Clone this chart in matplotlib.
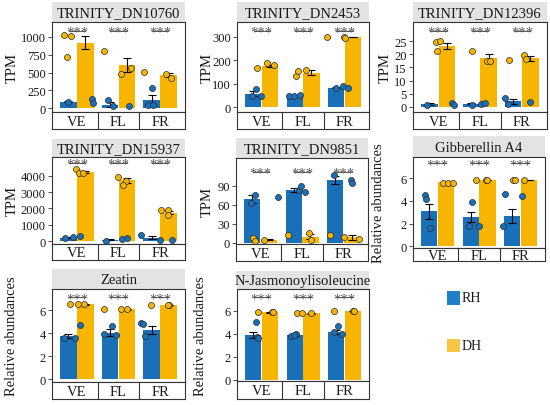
import numpy as np
import matplotlib.pyplot as plt
import matplotlib.transforms as mtransforms

plt.rcParams['font.family'] = ['Liberation Serif', 'DejaVu Serif']

groups = ["VE", "FL", "FR"]
series = ["RH", "DH"]
blue = "#1a6fb9"
yellow = "#f7b500"

# TRINITY_DN10760
dn10760_rh_mean = [90, 45, 113]
dn10760_rh_se = [12, 35, 75]
dn10760_dh_mean = [920, 605, 470]
dn10760_dh_se = [95, 100, 30]
dn10760_rh_pts = [[80, 127, 70], [113, 33, 24], [278, 42, 42]]
dn10760_dh_pts = [[1033, 1014, 717], [797, 481, 566], [514, 481, 420]]

# TRINITY_DN2453
dn2453_rh_mean = [57, 50, 83]
dn2453_rh_se = [10, 2, 2]
dn2453_dh_mean = [176, 147, 300]
dn2453_dh_se = [5, 10, 1]
dn2453_rh_pts = [[79, 47, 47], [47, 47, 50], [83, 89, 81]]
dn2453_dh_pts = [[169, 189, 179], [133, 153, 160], [300, 300, 297]]

# TRINITY_DN12396
dn12396_rh_mean = [1.2, 1.3, 2.2]
dn12396_rh_se = [0.3, 0.15, 1.0]
dn12396_dh_mean = [23.1, 18.5, 18.4]
dn12396_dh_se = [1.3, 1.4, 0.8]
dn12396_rh_pts = [[0.6, 1.6, 0.9], [0.9, 1.2, 1.5], [3.5, 1.2, 1.9]]
dn12396_dh_pts = [[24.6, 25.0, 21.3], [21.3, 17.25, 17.25], [17.75, 19.75, 18.1]]

# TRINITY_DN15937
dn15937_rh_mean = [200, 80, 200]
dn15937_rh_se = [40, 30, 100]
dn15937_dh_mean = [4230, 3720, 1740]
dn15937_dh_se = [90, 140, 100]
dn15937_rh_pts = [[180, 220, 300], [30, 110, 160], [400, 80, 80]]
dn15937_dh_pts = [[4440, 4180, 4200], [3900, 3680, 3440], [1880, 1880, 1580]]

# TRINITY_DN9851
dn9851_rh_mean = [69, 84, 99]
dn9851_rh_se = [6, 3, 6]
dn9851_dh_mean = [5, 9.5, 8.4]
dn9851_dh_se = [0.5, 4, 3.5]
dn9851_rh_pts = [[75, 63, 72], [84, 90, 80], [107, 99, 95]]
dn9851_dh_pts = [[7, 3, 5], [12, 15, 5], [13, 9.5, 6]]

# Gibberellin A4
ga4_rh_mean = [3.09, 2.6, 2.65]
ga4_rh_se = [0.65, 0.45, 0.6]
ga4_dh_mean = [5.62, 5.84, 5.84]
ga4_dh_se = [0.02, 0.02, 0.02]
ga4_rh_pts = [[4.47, 4.18, 1.64], [3.9, 1.82, 1.82], [4.56, 1.82, 4.41]]
ga4_dh_pts = [[5.57, 5.57, 5.57], [5.86, 5.86, 5.86], [5.86, 5.86, 5.86]]

# Zeatin
zeatin_rh_mean = [3.75, 4.04, 4.27]
zeatin_rh_se = [0.15, 0.3, 0.35]
zeatin_dh_mean = [6.49, 6.06, 6.43]
zeatin_dh_se = [0.02, 0.02, 0.02]
zeatin_rh_pts = [[3.6, 3.55, 4.7], [3.95, 4.6, 3.84], [4.9, 4.76, 3.75]]
zeatin_dh_pts = [[6.49, 6.49, 6.49], [6.06, 6.06, 6.06], [6.43, 6.43, 6.43]]

# N-Jasmonoylisoleucine
jaile_rh_mean = [3.89, 3.89, 4.18]
jaile_rh_se = [0.25, 0.05, 0.15]
jaile_dh_mean = [5.86, 5.77, 6.0]
jaile_dh_se = [0.02, 0.02, 0.02]
jaile_rh_pts = [[4.99, 3.69, 3.63], [3.84, 3.98, 3.89], [4.7, 3.98, 4.12]]
jaile_dh_pts = [[5.94, 5.9, 5.9], [5.8, 5.8, 5.8], [6.0, 6.0, 6.0]]

# horizontal jitter of the dots (layout only)
jit = {
    "dn10760": ([[-0.21, 0.36, 0.38], [-0.26, -0.13, 0.25], [-0.2, -0.3, -0.17]],
                [[-0.3, -0.15, -0.25], [-0.36, 0.07, 0.31], [-0.38, 0.14, 0.27]]),
    "dn2453": ([[-0.14, -0.23, -0.03], [-0.35, -0.22, -0.07], [-0.2, -0.02, 0.09]],
               [[-0.11, 0.13, 0.3], [-0.17, -0.11, 0.07], [-0.42, 0.0, 0.03]]),
    "dn12396": ([[-0.27, 0.32, 0.37], [-0.18, 0.03, 0.11], [-0.4, -0.33, 0.19]],
                [[-0.04, 0.04, -0.02], [-0.2, 0.16, 0.24], [-0.31, 0.06, 0.1]]),
    "dn15937": ([[-0.29, -0.1, 0.07], [-0.3, 0.08, 0.2], [-0.45, 0.0, 0.29]],
                [[-0.02, 0.04, 0.15], [-0.01, 0.17, 0.11], [0.02, 0.2, 0.2]]),
    "dn9851": ([[-0.14, -0.23, 0.43], [-0.08, -0.03, 0.07], [-0.22, 0.19, 0.21]],
               [[-0.19, -0.15, 0.09], [-0.33, 0.16, 0.21], [-0.31, 0.02, 0.37]]),
    "ga4": ([[-0.32, -0.28, -0.19], [-0.16, -0.25, 0.01], [-0.36, -0.41, 0.05]],
            [[0.12, 0.25, 0.38], [-0.08, 0.17, 0.19], [-0.18, -0.12, 0.08]]),
    "zeatin": ([[-0.31, -0.05, 0.08], [-0.36, -0.15, -0.07], [-0.45, -0.4, -0.37]],
               [[-0.16, 0.02, 0.17], [-0.36, 0.07, 0.2], [-0.22, 0.21, 0.19]]),
    "jaile": ([[-0.15, -0.12, -0.08], [-0.28, -0.18, -0.22], [-0.15, -0.05, -0.25]],
              [[-0.1, 0.26, 0.28], [-0.14, -0.02, 0.19], [-0.25, 0.21, 0.23]]),
}

panels = [
    dict(key="dn10760", title="TRINITY_DN10760", ylabel="TPM",
         rh=(dn10760_rh_mean, dn10760_rh_se, dn10760_rh_pts),
         dh=(dn10760_dh_mean, dn10760_dh_se, dn10760_dh_pts),
         box=(52, 185, 3, 23, 113, 130), lab_x=12,
         ylim=(-56, 1211), yticks=[0, 250, 500, 750, 1000], star=0.9),
    dict(key="dn2453", title="TRINITY_DN2453", ylabel="TPM",
         rh=(dn2453_rh_mean, dn2453_rh_se, dn2453_rh_pts),
         dh=(dn2453_dh_mean, dn2453_dh_se, dn2453_dh_pts),
         box=(237, 369, 3, 23, 113, 130), lab_x=207,
         ylim=(-21, 364), yticks=[0, 100, 200, 300], star=0.9),
    dict(key="dn12396", title="TRINITY_DN12396", ylabel="TPM",
         rh=(dn12396_rh_mean, dn12396_rh_se, dn12396_rh_pts),
         dh=(dn12396_dh_mean, dn12396_dh_se, dn12396_dh_pts),
         box=(413, 547, 3, 23, 113, 130), lab_x=385,
         ylim=(-1.9, 32.2), yticks=[0, 5, 10, 15, 20, 25], star=0.9),
    dict(key="dn15937", title="TRINITY_DN15937", ylabel="TPM",
         rh=(dn15937_rh_mean, dn15937_rh_se, dn15937_rh_pts),
         dh=(dn15937_dh_mean, dn15937_dh_se, dn15937_dh_pts),
         box=(52, 185, 140, 158, 245, 261), lab_x=12,
         ylim=(-182, 5150), yticks=[0, 1000, 2000, 3000, 4000], star=0.93),
    dict(key="dn9851", title="TRINITY_DN9851", ylabel="TPM",
         rh=(dn9851_rh_mean, dn9851_rh_se, dn9851_rh_pts),
         dh=(dn9851_dh_mean, dn9851_dh_se, dn9851_dh_pts),
         box=(236, 368, 139, 159, 245, 262), lab_x=207,
         ylim=(-2, 134), yticks=[0, 30, 60, 90], star=0.84),
    dict(key="ga4", title="Gibberellin A4", ylabel="Relative abundances",
         rh=(ga4_rh_mean, ga4_rh_se, ga4_rh_pts),
         dh=(ga4_dh_mean, ga4_dh_se, ga4_dh_pts),
         box=(413, 545, 137, 158, 249, 262), lab_x=378,
         ylim=(-0.15, 7.85), yticks=[0, 2, 4, 6], star=0.93),
    dict(key="zeatin", title="Zeatin", ylabel="Relative abundances",
         rh=(zeatin_rh_mean, zeatin_rh_se, zeatin_rh_pts),
         dh=(zeatin_dh_mean, zeatin_dh_se, zeatin_dh_pts),
         box=(52, 185, 270, 290, 383, 400), lab_x=12,
         ylim=(-0.26, 7.83), yticks=[0, 2, 4, 6], star=0.91),
    dict(key="jaile", title="N-Jasmonoylisoleucine", ylabel="Relative abundances",
         rh=(jaile_rh_mean, jaile_rh_se, jaile_rh_pts),
         dh=(jaile_dh_mean, jaile_dh_se, jaile_dh_pts),
         box=(237, 369, 272, 290, 382, 400), lab_x=200,
         ylim=(-0.1, 7.9), yticks=[0, 2, 4, 6], star=0.91),
]

W, H = 550, 406
fig = plt.figure(figsize=(W / 100, H / 100), dpi=100)


def px_rect(x0, x1, y0, y1):
    return [x0 / W, 1 - y1 / H, (x1 - x0) / W, (y1 - y0) / H]


frame_col = "#333333"
x = np.arange(len(groups))
off, bw = 0.205, 0.39

for p in panels:
    x0, x1, ys, yt, yb, ybox = p["box"]

    # strip on top
    sax = fig.add_axes(px_rect(x0, x1, ys, yt))
    sax.set_facecolor("#e3e3e3")
    sax.set_xticks([]); sax.set_yticks([])
    for s in sax.spines.values():
        s.set_visible(False)
    sax.text(0.5, 0.45, p["title"], ha="center", va="center", fontsize=10.5,
             color="#1a1a1a", transform=sax.transAxes)

    # main panel
    ax = fig.add_axes(px_rect(x0, x1, yt, yb))
    ax.set_xlim(-0.6, 2.6)
    ax.set_ylim(*p["ylim"])
    ax.set_yticks(p["yticks"])
    ax.set_xticks([])
    ax.tick_params(axis="y", length=3, width=0.6, color=frame_col,
                   labelsize=9, pad=1.5, labelcolor="#1a1a1a")
    for s in ax.spines.values():
        s.set_color(frame_col); s.set_linewidth(0.8)

    for (mean, se, pts), jits, sx, col in [(p["rh"], jit[p["key"]][0], -off, blue),
                                         (p["dh"], jit[p["key"]][1], off, yellow)]:
        ax.bar(x + sx, mean, bw, color=col, zorder=1)
        ax.errorbar(x + sx, mean, yerr=se, fmt="none", ecolor="black",
                    elinewidth=0.8, capsize=2.7, capthick=0.8, zorder=2)
        for i in range(len(groups)):
            ax.scatter(i + np.array(jits[i]), pts[i], s=19, color=col,
                       edgecolors="#2b2b2b", linewidths=0.5, zorder=3)

    trans = mtransforms.blended_transform_factory(ax.transData, ax.transAxes)
    for i in range(len(groups)):
        ax.plot([i - 0.2, i + 0.2], [p["star"], p["star"]], color="#555555",
                lw=0.7, transform=trans, clip_on=False)
        ax.annotate("***", xy=(i, p["star"]), xycoords=trans, xytext=(0, -3.5),
                    textcoords="offset points", ha="center", va="baseline",
                    fontsize=10.5, color="#555555")

    fig.text(p["lab_x"] / W, 1 - ((yt + yb) / 2) / H, p["ylabel"], rotation=90,
             ha="center", va="center", fontsize=10.5, color="#1a1a1a")

    # group label box underneath
    bax = fig.add_axes(px_rect(x0, x1, yb, ybox))
    bax.set_xlim(-0.6, 2.6); bax.set_ylim(0, 1)
    bax.set_xticks([]); bax.set_yticks([])
    for s in bax.spines.values():
        s.set_color(frame_col); s.set_linewidth(0.8)
    for b in [0.5, 1.5]:
        bax.axvline(b, color=frame_col, lw=0.8)
    for i, g in enumerate(groups):
        bax.text(i, 0.45, g, ha="center", va="center", fontsize=10.5, color="#1a1a1a")

# legend
leg_cols = ["#1f80c8", "#f7c547"]
for name, col, (ly0, ly1) in zip(series, leg_cols, [(292, 306), (340, 353)]):
    lax = fig.add_axes(px_rect(447, 460, ly0, ly1))
    lax.set_facecolor(col)
    lax.set_xticks([]); lax.set_yticks([])
    for s in lax.spines.values():
        s.set_visible(False)
    fig.text(462 / W, 1 - ((ly0 + ly1) / 2) / H, name, ha="left", va="center",
             fontsize=10, color="#1a1a1a")

fig.savefig("out.png", dpi=100)
